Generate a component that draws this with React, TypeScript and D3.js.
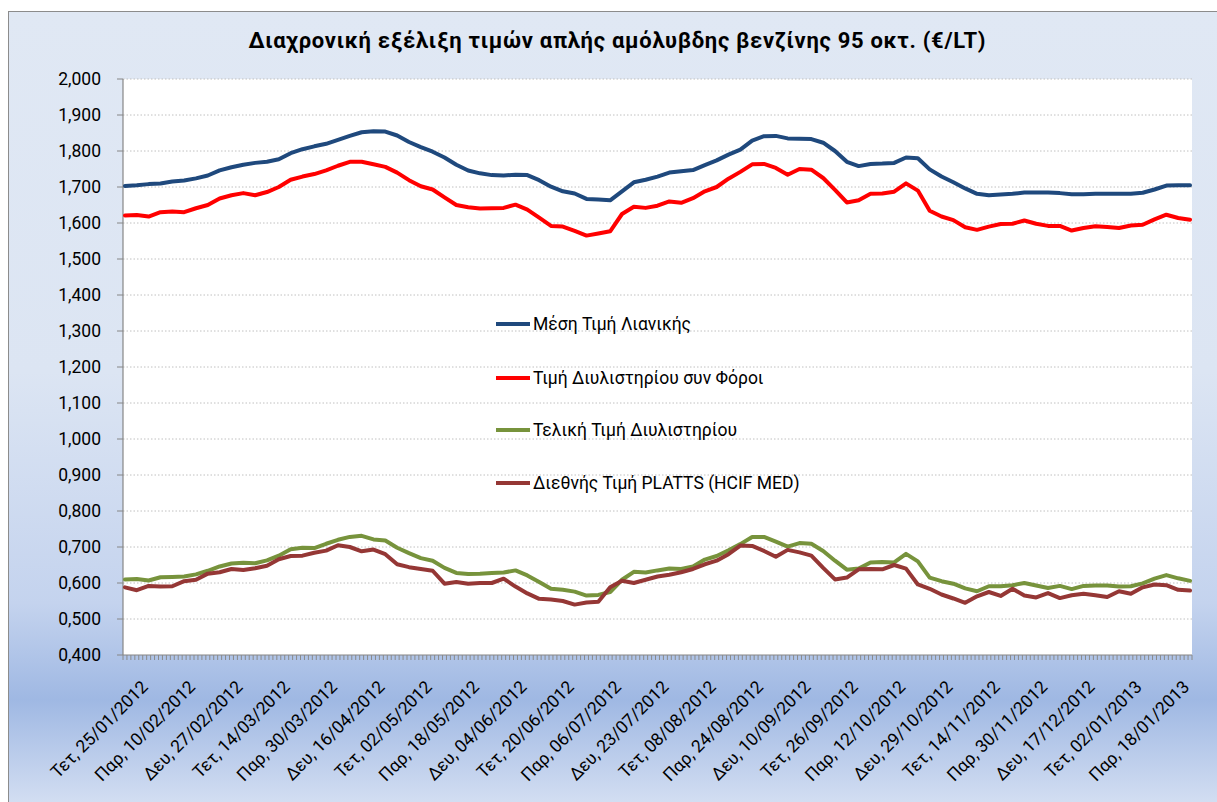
import React from "react";
import * as d3 from "d3";

const TITLE = "Διαχρονική εξέλιξη τιμών απλής αμόλυβδης βενζίνης 95 οκτ. (€/LT)";

// category axis: one category per trading day, a label every 12 categories
const CATEGORY_COUNT = 271;
const LABEL_STEP = 12;
const SAMPLE_STEP = 3; // series values below are read every 3 categories

const xLabels = [
  "Τετ, 25/01/2012", "Παρ, 10/02/2012", "Δευ, 27/02/2012", "Τετ, 14/03/2012",
  "Παρ, 30/03/2012", "Δευ, 16/04/2012", "Τετ, 02/05/2012", "Παρ, 18/05/2012",
  "Δευ, 04/06/2012", "Τετ, 20/06/2012", "Παρ, 06/07/2012", "Δευ, 23/07/2012",
  "Τετ, 08/08/2012", "Παρ, 24/08/2012", "Δευ, 10/09/2012", "Τετ, 26/09/2012",
  "Παρ, 12/10/2012", "Δευ, 29/10/2012", "Τετ, 14/11/2012", "Παρ, 30/11/2012",
  "Δευ, 17/12/2012", "Τετ, 02/01/2013", "Παρ, 18/01/2013",
];

const yTicks = [0.4, 0.5, 0.6, 0.7, 0.8, 0.9, 1.0, 1.1, 1.2, 1.3, 1.4, 1.5, 1.6, 1.7, 1.8, 1.9, 2.0];

const seriesNames = [
  "Μέση Τιμή Λιανικής",
  "Τιμή Διυλιστηρίου συν Φόροι",
  "Τελική Τιμή Διυλιστηρίου",
  "Διεθνής Τιμή PLATTS (HCIF MED)",
];

const retail = [
  1.703, 1.705, 1.708, 1.710, 1.715, 1.718, 1.724, 1.732, 1.746, 1.755,
  1.762, 1.767, 1.770, 1.777, 1.794, 1.805, 1.813, 1.820, 1.831, 1.842,
  1.852, 1.855, 1.854, 1.843, 1.825, 1.811, 1.798, 1.782, 1.762, 1.746,
  1.738, 1.733, 1.732, 1.734, 1.733, 1.719, 1.701, 1.688, 1.682, 1.667,
  1.665, 1.663, 1.688, 1.713, 1.720, 1.729, 1.740, 1.744, 1.747, 1.761,
  1.774, 1.790, 1.804, 1.829, 1.841, 1.842, 1.835, 1.834, 1.833, 1.823,
  1.800, 1.770, 1.758, 1.764, 1.765, 1.767, 1.782, 1.780, 1.749, 1.729,
  1.713, 1.696, 1.681, 1.677, 1.679, 1.681, 1.685, 1.685, 1.685, 1.683,
  1.680, 1.680, 1.681, 1.681, 1.681, 1.681, 1.684, 1.693, 1.704, 1.705,
  1.705,
];

const refineryWithTaxes = [
  1.621, 1.622, 1.618, 1.630, 1.632, 1.630, 1.641, 1.650, 1.668, 1.677,
  1.683, 1.677, 1.686, 1.700, 1.720, 1.729, 1.736, 1.746, 1.759, 1.770,
  1.770, 1.763, 1.756, 1.740, 1.719, 1.702, 1.693, 1.671, 1.650, 1.644,
  1.640, 1.641, 1.642, 1.651, 1.637, 1.615, 1.592, 1.590, 1.578, 1.565,
  1.571, 1.577, 1.625, 1.645, 1.642, 1.648, 1.660, 1.656, 1.669, 1.688,
  1.700, 1.723, 1.742, 1.763, 1.764, 1.753, 1.734, 1.750, 1.748, 1.725,
  1.692, 1.657, 1.663, 1.681, 1.682, 1.687, 1.710, 1.690, 1.634, 1.618,
  1.608, 1.588, 1.581, 1.590, 1.597, 1.598, 1.607, 1.598, 1.592, 1.592,
  1.579, 1.586, 1.591, 1.589, 1.586, 1.593, 1.595, 1.610, 1.623, 1.614,
  1.609,
];

const refineryFinal = [
  0.610, 0.611, 0.607, 0.616, 0.617, 0.618, 0.624, 0.634, 0.646, 0.654,
  0.656, 0.655, 0.663, 0.676, 0.694, 0.698, 0.697, 0.709, 0.720, 0.728,
  0.731, 0.721, 0.718, 0.698, 0.683, 0.669, 0.662, 0.642, 0.628, 0.625,
  0.626, 0.628, 0.629, 0.635, 0.621, 0.603, 0.584, 0.581, 0.576, 0.565,
  0.567, 0.575, 0.609, 0.631, 0.629, 0.635, 0.640, 0.639, 0.646, 0.665,
  0.675, 0.691, 0.708, 0.728, 0.728, 0.715, 0.701, 0.711, 0.709, 0.689,
  0.662, 0.637, 0.640, 0.657, 0.658, 0.657, 0.681, 0.660, 0.615, 0.605,
  0.598, 0.585, 0.577, 0.591, 0.591, 0.594, 0.600, 0.593, 0.586, 0.592,
  0.583, 0.592, 0.593, 0.593, 0.590, 0.591, 0.599, 0.612, 0.622, 0.613,
  0.606,
];

const platts = [
  0.588, 0.580, 0.592, 0.590, 0.591, 0.605, 0.609, 0.626, 0.630, 0.639,
  0.636, 0.641, 0.648, 0.666, 0.675, 0.676, 0.684, 0.690, 0.705, 0.700,
  0.688, 0.693, 0.680, 0.652, 0.644, 0.639, 0.634, 0.598, 0.603, 0.598,
  0.600, 0.600, 0.612, 0.590, 0.571, 0.556, 0.554, 0.550, 0.540, 0.546,
  0.548, 0.588, 0.606, 0.600, 0.609, 0.618, 0.623, 0.630, 0.639, 0.652,
  0.662, 0.680, 0.704, 0.703, 0.689, 0.673, 0.692, 0.685, 0.676, 0.642,
  0.610, 0.615, 0.638, 0.639, 0.638, 0.650, 0.640, 0.596, 0.584, 0.568,
  0.557, 0.545, 0.563, 0.575, 0.564, 0.584, 0.565, 0.560, 0.572, 0.558,
  0.566, 0.570, 0.566, 0.561, 0.577, 0.570, 0.588, 0.596, 0.594, 0.581,
  0.579,
];

const seriesValues = [retail, refineryWithTaxes, refineryFinal, platts];
const seriesColors = ["#1f497d", "#ff0000", "#77933c", "#953735"];

const W = 1217;
const H = 802;
const PLOT = { left: 123, right: 1192, top: 79, bottom: 655 };
const FONT = "Roboto, 'Noto Sans', sans-serif";

const grFormat = d3.formatLocale({
  decimal: ",",
  thousands: ".",
  grouping: [3],
  currency: ["", "€"],
}).format(".3f");

export default function App() {
  const x = d3.scaleLinear().domain([0, CATEGORY_COUNT]).range([PLOT.left, PLOT.right]);
  const y = d3.scaleLinear().domain([0.4, 2.0]).range([PLOT.bottom, PLOT.top]);

  const line = d3
    .line<number>()
    .x((_, i) => x(i * SAMPLE_STEP + 0.5))
    .y((d) => y(d))
    .curve(d3.curveLinear);

  const catTicks = d3.range(0, CATEGORY_COUNT + 1);

  const legendX = 496;
  const legendRows = [324, 378, 430, 483];

  return (
    <svg
      width={W}
      height={H}
      style={{ position: "absolute", left: 0, top: 0, display: "block" }}
      fontFamily={FONT}
    >
      <defs>
        <linearGradient id="bg" x1="0" y1="0" x2="0" y2="1">
          <stop offset="0" stopColor="#e0e8f4" />
          <stop offset="0.45" stopColor="#dce5f3" />
          <stop offset="0.74" stopColor="#c4d3ee" />
          <stop offset="0.86" stopColor="#9fb8e3" />
          <stop offset="1" stopColor="#d7e1f3" />
        </linearGradient>
      </defs>
      <rect x={8.5} y={11.5} width={1215} height={800} fill="url(#bg)" stroke="#8c8c8c" strokeWidth={1} />

      <text x={617} y={48} textAnchor="middle" fontSize={22} fontWeight="bold" fill="#000" textLength={737} lengthAdjust="spacing">
        {TITLE}
      </text>

      <rect x={PLOT.left} y={PLOT.top} width={PLOT.right - PLOT.left} height={PLOT.bottom - PLOT.top} fill="#ffffff" />

      {yTicks.slice(1).map((t) => (
        <line
          key={"g" + t}
          x1={PLOT.left}
          x2={PLOT.right}
          y1={y(t)}
          y2={y(t)}
          stroke="#c0c0c0"
          strokeWidth={1}
          strokeDasharray="1.5 2"
        />
      ))}

      {/* y axis */}
      <line x1={PLOT.left} x2={PLOT.left} y1={PLOT.top} y2={PLOT.bottom} stroke="#868686" strokeWidth={1.2} />
      {yTicks.map((t) => (
        <g key={"y" + t}>
          <line x1={PLOT.left - 6} x2={PLOT.left} y1={y(t)} y2={y(t)} stroke="#868686" strokeWidth={1} />
          <text x={101} y={y(t)} dy="0.35em" textAnchor="end" fontSize={17.5} fill="#000">
            {grFormat(t)}
          </text>
        </g>
      ))}

      {/* x axis */}
      <line x1={PLOT.left} x2={PLOT.right} y1={PLOT.bottom} y2={PLOT.bottom} stroke="#868686" strokeWidth={1.2} />
      {catTicks.map((i) => (
        <line key={"t" + i} x1={x(i)} x2={x(i)} y1={PLOT.bottom} y2={PLOT.bottom + 5} stroke="#8a8a8a" strokeWidth={1} />
      ))}
      {xLabels.map((lab, j) => {
        const px = x(j * LABEL_STEP + 0.5) + 24;
        const py = PLOT.bottom + 33;
        return (
          <text
            key={"xl" + j}
            x={px}
            y={py}
            textAnchor="end"
            fontSize={17.5}
            fill="#000"
            transform={`rotate(-45 ${px} ${py})`}
          >
            {lab}
          </text>
        );
      })}

      {/* series */}
      {seriesValues.map((vals, s) => (
        <path
          key={"s" + s}
          d={line(vals) || ""}
          fill="none"
          stroke={seriesColors[s]}
          strokeWidth={4}
          strokeLinejoin="round"
          strokeLinecap="round"
        />
      ))}

      {/* legend */}
      {seriesNames.map((name, s) => (
        <g key={"lg" + s}>
          <line x1={legendX} x2={legendX + 34} y1={legendRows[s]} y2={legendRows[s]} stroke={seriesColors[s]} strokeWidth={4} />
          <text x={legendX + 37} y={legendRows[s]} dy="0.35em" fontSize={17.5} fill="#000">
            {name}
          </text>
        </g>
      ))}
    </svg>
  );
}
